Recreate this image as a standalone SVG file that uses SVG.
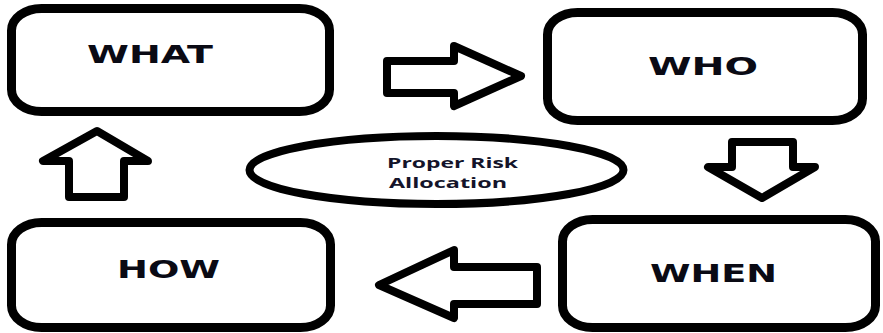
<svg xmlns="http://www.w3.org/2000/svg" width="883" height="333" viewBox="0 0 883 333">
<style>
.box{fill:#fff;stroke:#000;stroke-width:9}
.arrow{fill:#fff;stroke:#000;stroke-width:8;stroke-linejoin:round}
.lbl{font-family:"DejaVu Sans","Liberation Sans",sans-serif;font-weight:bold;font-size:25px;fill:#0a0a14}
.small{font-family:"Open Sans","Liberation Sans",sans-serif;font-weight:bold;font-size:15px;fill:#14142a}
</style>
<rect width="883" height="333" fill="#fff"/>
<g id="what">
<rect class="box" x="11.5" y="8.5" width="318" height="103" rx="30" ry="22"/>
<text class="lbl" x="87" y="63" textLength="126" lengthAdjust="spacingAndGlyphs">WHAT</text>
</g>
<g id="who">
<rect class="box" x="547.5" y="12.5" width="315" height="108" rx="30" ry="22"/>
<text class="lbl" x="648" y="75" textLength="110" lengthAdjust="spacingAndGlyphs">WHO</text>
</g>
<g id="when">
<rect class="box" x="562.5" y="219.5" width="313" height="108" rx="30" ry="22"/>
<text class="lbl" x="650" y="282" textLength="127" lengthAdjust="spacingAndGlyphs">WHEN</text>
</g>
<g id="how">
<rect class="box" x="11.5" y="222.5" width="319" height="105" rx="30" ry="22"/>
<text class="lbl" x="117" y="278" textLength="103" lengthAdjust="spacingAndGlyphs">HOW</text>
</g>
<g id="center">
<ellipse cx="436.5" cy="170" rx="187" ry="34" fill="#fff" stroke="#000" stroke-width="8"/>
<text class="small" x="387" y="168" textLength="131" lengthAdjust="spacingAndGlyphs">Proper Risk</text>
<text class="small" x="389" y="188" textLength="118" lengthAdjust="spacingAndGlyphs">Allocation</text>
</g>
<g id="connectors">
<polygon class="arrow" points="387,61 454,61 454,46 521,76 454,106 454,93 387,93"/>
<polygon class="arrow" points="732,142 793,142 793,167 815,167 762,198 708,167 732,167"/>
<polygon class="arrow" points="537,267 454,267 454,250 379,285 454,318 454,304 537,304"/>
<polygon class="arrow" points="69,197 124,197 124,161 148,161 97,131 43,161 69,161"/>
</g>
</svg>
